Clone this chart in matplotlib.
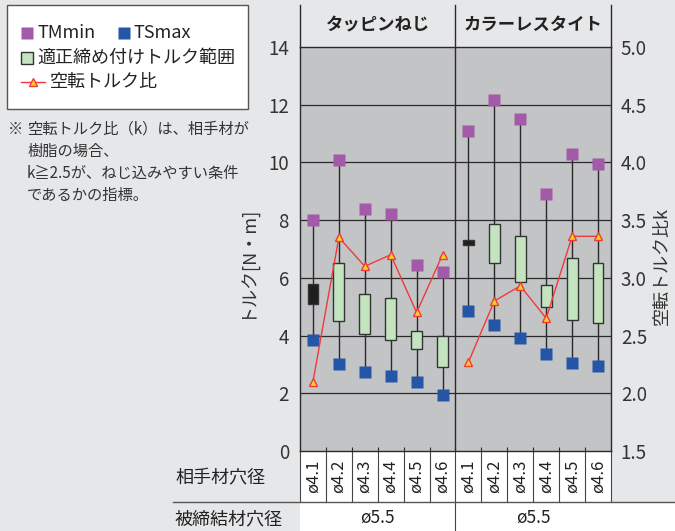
import matplotlib
matplotlib.use('Agg')
import matplotlib.pyplot as plt
from matplotlib.patches import Rectangle
from matplotlib.lines import Line2D
import matplotlib.transforms as mtransforms

plt.rcParams['font.family'] = ['Noto Sans CJK JP', 'DejaVu Sans']

# ---------------- data ----------------
groups = ['タッピンねじ', 'カラーレスタイト']
holes = ['ø4.1', 'ø4.2', 'ø4.3', 'ø4.4', 'ø4.5', 'ø4.6']
clamp_holes = ['ø5.5', 'ø5.5']
tm_min = [8.0, 10.1, 8.4, 8.2, 6.45, 6.2,
          11.1, 12.15, 11.5, 8.9, 10.3, 9.95]
ts_max = [3.85, 3.0, 2.75, 2.6, 2.4, 1.95,
          4.85, 4.35, 3.9, 3.35, 3.05, 2.95]
range_low = [5.1, 4.5, 4.05, 3.85, 3.55, 2.9,
             7.15, 6.5, 5.85, 5.0, 4.55, 4.45]
range_high = [5.8, 6.5, 5.45, 5.3, 4.15, 4.0,
              7.3, 7.85, 7.45, 5.75, 6.7, 6.5]
ratio = [2.1, 3.35, 3.1, 3.2, 2.7, 3.2,
         2.27, 2.8, 2.93, 2.65, 3.36, 3.36]
black_range_idx = [0, 6]
left_ticks = [0, 2, 4, 6, 8, 10, 12, 14]
right_ticks = [1.5, 2.0, 2.5, 3.0, 3.5, 4.0, 4.5, 5.0]

# ---------------- style ----------------
BG = '#e6e7e9'
PLOT_BG = '#c3c4c6'
LINE = '#2a2a2a'
PURPLE = '#a25aa9'
BLUE = '#2455a6'
GREEN = '#c4e4c0'
RED = '#f03a3a'
TRI = '#ffd21a'

W, H = 675, 531
fig = plt.figure(figsize=(W / 100, H / 100), dpi=100, facecolor=BG)


def fx(px):
    return px / W


def fy(py):
    return 1 - py / H


ax = fig.add_axes([fx(300), fy(451), 311 / W, 404 / H])
ax.set_facecolor(PLOT_BG)
n = len(groups) * len(holes)
xs = list(range(n))
ax.set_xlim(-0.5, n - 0.5)
ax.set_ylim(0, 14)
ax.set_yticks(left_ticks)
ax.set_yticklabels([str(t) for t in left_ticks], fontsize=13.5, color='#333')
ax.tick_params(axis='y', length=0, pad=8)
bounds = [i + 0.5 for i in range(n - 1)]
ax.set_xticks(bounds)
ax.set_xticklabels([''] * len(bounds))
ax.tick_params(axis='x', direction='in', length=3, color=LINE, width=0.8)
for s in ax.spines.values():
    s.set_color(LINE)
    s.set_linewidth(1)

for t in left_ticks[1:-1]:
    ax.axhline(t, color=LINE, lw=0.9, zorder=1)
ax.axvline(len(holes) - 0.5, color=LINE, lw=1, zorder=1)

blend = mtransforms.blended_transform_factory(ax.transData, ax.transAxes)
top_ext = (451 - 5) / 404
for xv in [-0.5, len(holes) - 0.5, n - 0.5]:
    ax.plot([xv, xv], [1, top_ext], color=LINE, lw=1, transform=blend, clip_on=False)
for g, name in enumerate(groups):
    ax.text(g * len(holes) + (len(holes) - 1) / 2, (451 - 25) / 404, name,
            transform=blend, ha='center', va='center', fontsize=12.5,
            fontweight='bold', color='#222')

# whiskers, boxes, markers
ax.vlines(xs, ts_max, tm_min, color=LINE, lw=1, zorder=2)
colors = ['#1e1e1e' if i in black_range_idx else GREEN for i in xs]
heights = [h - l for h, l in zip(range_high, range_low)]
ax.bar(xs, heights, bottom=range_low, width=0.42, color=colors,
       edgecolor='#333', lw=1, zorder=3)
ax.plot(xs, tm_min, 's', ms=8.6, color=PURPLE, mec='none', zorder=4, clip_on=False)
ax.plot(xs, ts_max, 's', ms=8.6, color=BLUE, mec='none', zorder=4, clip_on=False)

ax2 = ax.twinx()
ax2.set_ylim(1.5, 5.0)
ax2.set_yticks(right_ticks)
ax2.set_yticklabels([f'{t:.1f}' for t in right_ticks], fontsize=13.5, color='#333')
ax2.tick_params(axis='y', length=0, pad=7)
for s in ax2.spines.values():
    s.set_visible(False)
for g in range(len(groups)):
    sl = slice(g * len(holes), (g + 1) * len(holes))
    ax2.plot(xs[sl], ratio[sl], '-', color=RED, lw=1, zorder=5)
    ax2.plot(xs[sl], ratio[sl], '^', ms=5.5, mfc=TRI, mec=RED, mew=1, zorder=6)

ax.set_ylabel('トルク[N・m]', fontsize=13, color='#333')
ax.yaxis.set_label_coords((256 - 300) / 311, (451 - 262) / 404)
ax2.set_ylabel('空転トルク比k', fontsize=13, color='#333')
ax2.yaxis.set_label_coords((653 - 300) / 311, (451 - 266) / 404)

# ---------------- table ----------------
row1_h = 51 / 404
ax.add_patch(Rectangle((-0.5, -row1_h), n, row1_h, transform=blend,
                       facecolor='white', edgecolor='none', clip_on=False, zorder=0))
for b in [-0.5] + bounds + [n - 0.5]:
    ax.plot([b, b], [0, -row1_h], color='#444', lw=0.8, transform=blend, clip_on=False)
for i in xs:
    ax.text(i, -row1_h / 2, holes[i % len(holes)], transform=blend, rotation=90,
            ha='center', va='center', fontsize=12, color='#222')

fig.add_artist(Rectangle((fx(300), fy(531)), fx(675) - fx(300), fy(502) - fy(531),
                         transform=fig.transFigure, facecolor='white',
                         edgecolor='none', zorder=0))
fig.add_artist(Line2D([fx(173), fx(675)], [fy(502), fy(502)], color='#555', lw=1))
row2_mid = -(518 - 451) / 404
ax.plot([len(holes) - 0.5, len(holes) - 0.5], [-row1_h, -(531 - 451) / 404],
        color='#444', lw=0.8, transform=blend, clip_on=False)
for g, lab in enumerate(clamp_holes):
    ax.text(g * len(holes) + (len(holes) - 1) / 2, row2_mid, lab, transform=blend,
            ha='center', va='center', fontsize=12.5, color='#222')
fig.text(fx(175), fy(478), '相手材穴径', ha='left', va='center', fontsize=13, color='#222')
fig.text(fx(175), fy(519), '被締結材穴径', ha='left', va='center', fontsize=13, color='#222')

# ---------------- legend box ----------------
fig.add_artist(Rectangle((fx(7), fy(109)), fx(248) - fx(7), fy(5) - fy(109),
                         transform=fig.transFigure, facecolor='white',
                         edgecolor='#555', lw=1))
lg = dict(transform=fig.transFigure)
fig.add_artist(Line2D([fx(27)], [fy(33)], marker='s', ms=8, color=PURPLE, mec='none', **lg))
fig.text(fx(37), fy(33), 'TMmin', ha='left', va='center', fontsize=13, color='#222')
fig.add_artist(Line2D([fx(124)], [fy(33)], marker='s', ms=8, color=BLUE, mec='none', **lg))
fig.text(fx(134), fy(33), 'TSmax', ha='left', va='center', fontsize=13, color='#222')
fig.add_artist(Line2D([fx(27)], [fy(58)], marker='s', ms=8, mfc=GREEN, mec='#333', mew=1, **lg))
fig.text(fx(37), fy(58), '適正締め付けトルク範囲', ha='left', va='center', fontsize=13, color='#222')
fig.add_artist(Line2D([fx(21), fx(45)], [fy(82), fy(82)], color=RED, lw=1, **lg))
fig.add_artist(Line2D([fx(33)], [fy(82)], marker='^', ms=5.5, mfc=TRI, mec=RED, mew=1, **lg))
fig.text(fx(50), fy(82), '空転トルク比', ha='left', va='center', fontsize=13, color='#222')

note_lines = ['空転トルク比（k）は、相手材が', '樹脂の場合、',
              'k≧2.5が、ねじ込みやすい条件', 'であるかの指標。']
fig.text(fx(8), fy(129), '※', ha='left', va='center', fontsize=11, color='#333')
for j, line in enumerate(note_lines):
    fig.text(fx(27), fy(129 + 22 * j), line, ha='left', va='center',
             fontsize=11, color='#333')

fig.savefig('out.png', dpi=100, facecolor=BG)
